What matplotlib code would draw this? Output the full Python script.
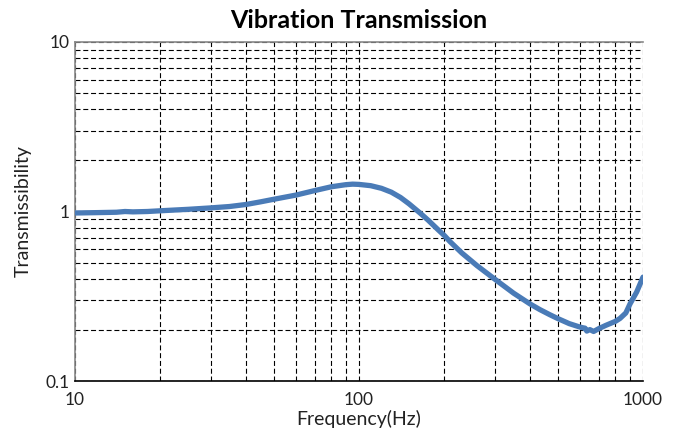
import matplotlib.pyplot as plt
from matplotlib.ticker import FixedLocator, NullFormatter

# values
freq_hz = [10, 12, 14, 15, 16, 18, 20, 25, 30, 35, 40, 45, 50, 60, 70, 80, 90, 95,
           100, 110, 120, 130, 140, 150, 164, 175, 190, 200, 209, 230, 260, 300, 350,
           400, 433, 470, 500, 550, 600, 615, 625, 634, 650, 670, 700, 740, 800, 830,
           870, 900, 950, 1000]
transmissibility = [0.98, 0.985, 0.99, 1.0, 0.995, 1.0, 1.01, 1.03, 1.05, 1.07, 1.10,
                    1.14, 1.18, 1.25, 1.33, 1.40, 1.44, 1.45, 1.445, 1.42, 1.37, 1.30,
                    1.21, 1.11, 0.98, 0.89, 0.78, 0.72, 0.665, 0.57, 0.48, 0.40, 0.33,
                    0.285, 0.264, 0.246, 0.234, 0.218, 0.208, 0.206, 0.205, 0.197, 0.201,
                    0.196, 0.204, 0.213, 0.225, 0.234, 0.252, 0.285, 0.335, 0.41]

x_ticks = [10, 100, 1000]
x_tick_labels = ["10", "100", "1000"]
y_ticks = [0.1, 1, 10]
y_tick_labels = ["0.1", "1", "10"]

plt.rcParams["font.family"] = ["Lato", "DejaVu Sans"]

fig = plt.figure(figsize=(6.75, 4.3), dpi=100)
ax = fig.add_axes([75 / 675, 1 - 381 / 430, 568 / 675, 339 / 430])

ax.set_xscale("log")
ax.set_yscale("log")
ax.set_xlim(10, 1000)
ax.set_ylim(0.1, 10)

ax.plot(freq_hz, transmissibility, color="#4a7bb7", lw=3.8, solid_capstyle="round",
        solid_joinstyle="round", zorder=3)

ax.xaxis.set_major_locator(FixedLocator(x_ticks))
ax.yaxis.set_major_locator(FixedLocator(y_ticks))
ax.set_xticklabels(x_tick_labels)
ax.set_yticklabels(y_tick_labels)
ax.xaxis.set_minor_formatter(NullFormatter())
ax.yaxis.set_minor_formatter(NullFormatter())
ax.tick_params(which="both", length=0, labelsize=12.5, colors="#222222")
ax.tick_params(axis="x", pad=8)
ax.tick_params(axis="y", pad=4)

ax.grid(True, which="both", color="black", linestyle=(0, (4.5, 2.5)), lw=0.8)
ax.set_axisbelow(True)

ax.spines["right"].set_visible(False)
ax.spines["top"].set_color("#888888")
ax.spines["left"].set_color("#888888")
ax.spines["bottom"].set_color("black")
for side in ("top", "left", "bottom"):
    ax.spines[side].set_linewidth(1.2)

ax.set_xlabel("Frequency(Hz)", fontsize=14, color="#222222", labelpad=1)
ax.set_ylabel("Transmissibility", fontsize=14, color="#222222", labelpad=10)
ax.set_title("Vibration Transmission", fontsize=18, fontweight="bold", pad=10)

fig.savefig("out.png", dpi=100)
